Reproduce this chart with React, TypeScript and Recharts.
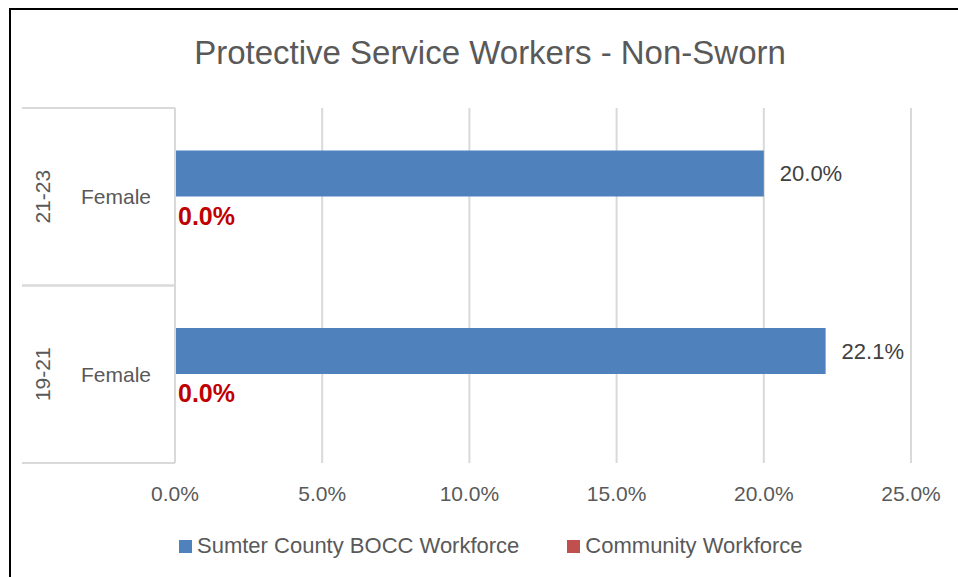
import React from 'react';
import { BarChart, Bar, XAxis, YAxis, CartesianGrid, LabelList, Legend } from 'recharts';

const groups = ['21-23', '19-21'];
const categories = ['Female', 'Female'];
const sumterValues = [0.2, 0.221];
const communityValues = [0.0, 0.0];
const xTicks = [0, 0.05, 0.1, 0.15, 0.2, 0.25];
const seriesNames = ['Sumter County BOCC Workforce', 'Community Workforce'];
const seriesColors = ['#4F81BD', '#C0504D'];
const titleText = 'Protective Service Workers - Non-Sworn';

const data = categories.map((c, i) => ({
  key: `${groups[i]}|${c}`,
  group: groups[i],
  sex: c,
  sumter: sumterValues[i],
  community: communityValues[i],
}));

const FONT = '"Liberation Sans", Arial, sans-serif';
const pct = (v: number) => `${(v * 100).toFixed(1)}%`;

const GroupTick = (props: any) => {
  const { y, payload, index } = props;
  const half = payload && typeof payload.offset === 'number' && payload.offset > 0 ? payload.offset : 88.75;
  const row = data[index] || data[0];
  return (
    <g>
      <line x1={22} x2={175} y1={y - half} y2={y - half} stroke="#D9D9D9" strokeWidth={2} />
      <line x1={22} x2={175} y1={y + half} y2={y + half} stroke="#D9D9D9" strokeWidth={2} />
      <text x={116} y={y} textAnchor="middle" dominantBaseline="central" fontSize={21} fill="#595959" fontFamily={FONT}>
        {row.sex}
      </text>
      <text
        transform={`translate(42, ${y}) rotate(-90)`}
        textAnchor="middle"
        dominantBaseline="central"
        fontSize={21}
        fill="#595959"
        fontFamily={FONT}
      >
        {row.group}
      </text>
    </g>
  );
};

// Value labels for the Sumter bars, plus the Community Workforce labels which sit in the
// (zero-width) bar slot directly below each Sumter bar.
const SumterLabel = (props: any) => {
  const { x, y, width, height, index, value } = props;
  const v = Number(value);
  const cv = communityValues[index] ?? 0;
  return (
    <g>
      <text
        x={x + width + 16}
        y={y + height / 2}
        dominantBaseline="central"
        fontSize={22}
        fill="#404040"
        fontFamily={FONT}
      >
        {pct(v)}
      </text>
      <text
        x={x + 3}
        y={y + height * 1.5 - 4}
        dominantBaseline="central"
        fontSize={25}
        fontWeight="bold"
        fill="#C00000"
        fontFamily={FONT}
      >
        {pct(cv)}
      </text>
    </g>
  );
};

const LegendContent = () => (
  <div style={{ display: 'flex', alignItems: 'center', fontFamily: FONT, fontSize: 22, color: '#595959', whiteSpace: 'nowrap' }}>
    {seriesNames.map((n, i) => (
      <div key={n} style={{ display: 'flex', alignItems: 'center', marginRight: i === 0 ? 48 : 0 }}>
        <div style={{ width: 13, height: 13, background: seriesColors[i], marginRight: 5 }} />
        <span>{n}</span>
      </div>
    ))}
  </div>
);

export default function App() {
  return (
    <div style={{ position: 'absolute', left: 0, top: 0, width: 958, height: 577, background: '#fff' }}>
      <div
        style={{
          position: 'absolute',
          left: 9,
          top: 8,
          width: 949,
          height: 569,
          borderTop: '2px solid #000',
          borderLeft: '2px solid #000',
          boxSizing: 'border-box',
        }}
      />
      <div
        style={{
          position: 'absolute',
          left: 0,
          width: 980,
          top: 34,
          textAlign: 'center',
          fontFamily: FONT,
          fontSize: 33,
          color: '#595959',
        }}
      >
        {titleText}
      </div>
      <BarChart
        width={958}
        height={577}
        data={data}
        layout="vertical"
        margin={{ top: 108, right: 47, left: 22, bottom: 64 }}
        barCategoryGap="24%"
        barGap={0}
      >
        <CartesianGrid horizontal={false} vertical={true} stroke="#D9D9D9" strokeWidth={2} />
        <XAxis
          type="number"
          domain={[0, 0.25]}
          ticks={xTicks}
          tickFormatter={pct}
          axisLine={false}
          tickLine={false}
          tickSize={0}
          tickMargin={23}
          height={50}
          interval={0}
          tick={{ fill: '#595959', fontSize: 21, fontFamily: FONT }}
        />
        <YAxis
          type="category"
          dataKey="key"
          width={153}
          axisLine={{ stroke: '#D9D9D9', strokeWidth: 2 }}
          tickLine={false}
          tick={<GroupTick />}
          interval={0}
        />
        <Legend
          verticalAlign="middle"
          align="center"
          layout="horizontal"
          content={<LegendContent />}
          wrapperStyle={{ left: 179, top: 533, width: 'auto' }}
        />
        <Bar dataKey="sumter" name={seriesNames[0]} fill={seriesColors[0]} isAnimationActive={false}>
          <LabelList dataKey="sumter" content={<SumterLabel />} />
        </Bar>
        <Bar dataKey="community" name={seriesNames[1]} fill={seriesColors[1]} isAnimationActive={false} />
      </BarChart>
    </div>
  );
}
